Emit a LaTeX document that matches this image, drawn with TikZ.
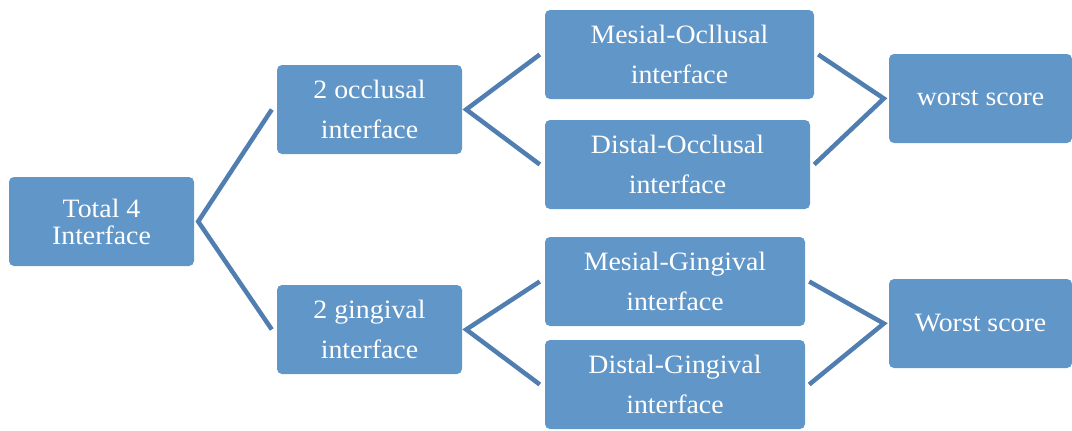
\documentclass[tikz,border=0pt]{standalone}
\usepackage{fontspec}
\setmainfont{Liberation Serif}[FakeStretch=1.05]
\usetikzlibrary{calc}
\definecolor{boxblue}{RGB}{97,150,200}
\definecolor{lineblue}{RGB}{80,126,176}
\begin{document}
\begin{tikzpicture}[x=1pt,y=-1pt,
  box/.style={fill=boxblue, rounded corners=5pt, minimum height=89pt, inner sep=0pt,
    text=white, align=center, font=\fontsize{26.5}{40}\selectfont},
  conn/.style={draw=lineblue, line width=4.5pt}]
\useasboundingbox (0,0) rectangle (1072,431);
\node[box, minimum width=185pt, font=\fontsize{26.5}{27}\selectfont] (t) at (101.5,221.5) {Total 4\\Interface};
\node[box, minimum width=185pt] (o) at (369.5,109.5) {2 occlusal\\interface};
\node[box, minimum width=185pt] (g) at (369.5,329.5) {2 gingival\\interface};
\node[box, minimum width=269pt] (mo) at (679.5,54.5) {Mesial-Ocllusal\\interface};
\node[box, minimum width=265pt] (do) at (677.5,164.5) {Distal-Occlusal\\interface};
\node[box, minimum width=183pt] (w1) at (980.5,98.5) {worst score};
\node[box, minimum width=260pt] (mg) at (675,281.5) {Mesial-Gingival\\interface};
\node[box, minimum width=260pt] (dg) at (675,384.5) {Distal-Gingival\\interface};
\node[box, minimum width=183pt] (w2) at (980.5,323.5) {Worst score};
\coordinate (tb) at ($(t.east)+(4,0)$);
\draw[conn] ($(o.west)+(-5,0)$) -- (tb) -- ($(g.west)+(-5,0)$);
\coordinate (ob) at ($(o.east)+(4,0)$);
\draw[conn] ($(mo.west)+(-5,0)$) -- (ob) -- ($(do.west)+(-5,0)$);
\coordinate (gb) at ($(g.east)+(4,0)$);
\draw[conn] ($(mg.west)+(-5,0)$) -- (gb) -- ($(dg.west)+(-5,0)$);
\coordinate (w1b) at ($(w1.west)+(-5,0)$);
\draw[conn] ($(mo.east)+(4,0)$) -- (w1b) -- ($(do.east)+(4,0)$);
\coordinate (w2b) at ($(w2.west)+(-5,0)$);
\draw[conn] ($(mg.east)+(4,0)$) -- (w2b) -- ($(dg.east)+(4,0)$);
\end{tikzpicture}
\end{document}
